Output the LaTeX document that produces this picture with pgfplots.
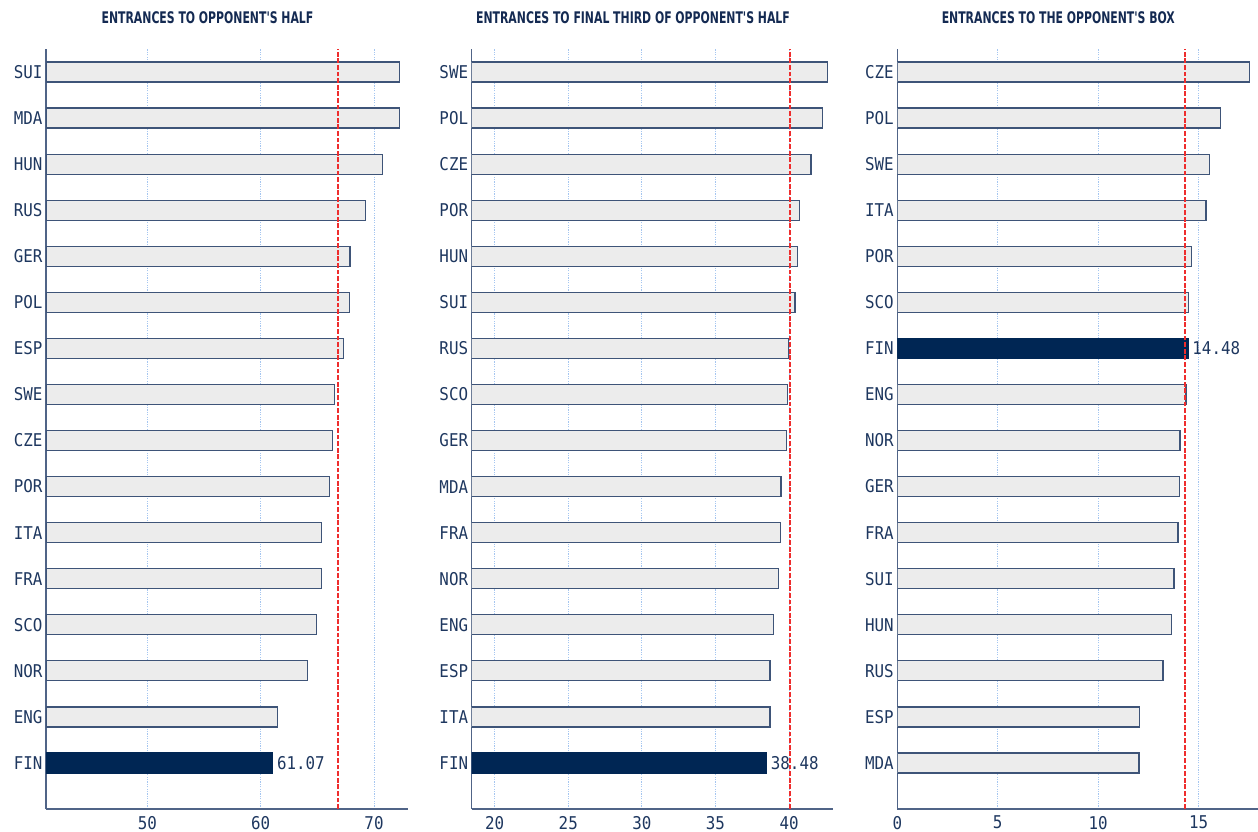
\documentclass[border=0pt]{standalone}
\usepackage{pgfplots}
\pgfplotsset{compat=1.18}
\usepackage{fontspec}
\newfontfamily\monof[FakeStretch=0.9]{DejaVu Sans Mono}
\newfontfamily\titlef[FakeStretch=0.68]{DejaVu Sans}
\definecolor{fincol}{RGB}{0,38,84}
\definecolor{barfill}{RGB}{236,236,236}
\definecolor{baredge}{RGB}{62,84,120}
\definecolor{axiscol}{RGB}{80,100,135}
\definecolor{gridcol}{RGB}{165,198,240}
\definecolor{meancol}{RGB}{238,45,45}
\definecolor{labelcol}{RGB}{30,55,95}
\definecolor{titlecol}{RGB}{20,42,82}
\pgfplotsset{
  panel/.style={
    scale only axis, height=380pt,
    axis x line*=bottom, axis y line*=left,
    axis line style={-, draw=axiscol, line width=0.6pt},
    ymin=-1, ymax=15.5, ytick={0,...,15},
    major tick length=0pt,
    xmajorgrids,
    grid style={draw=gridcol, line width=0.5pt, dash pattern=on 0.6pt off 0.6pt},
    tick label style={font=\monof\fontsize{8.8}{10}\selectfont, text=labelcol},
    yticklabel style={inner xsep=1.6pt},
    /pgf/number format/assume math mode=true,
  },
  gbar/.style={xbar, bar width=10pt, bar shift=0pt, fill=barfill, draw=baredge, line width=0.65pt},
  fbar/.style={xbar, bar width=10pt, bar shift=0pt, fill=fincol, draw=fincol, line width=0.65pt,
    point meta=x, nodes near coords={\pgfmathprintnumber[fixed,fixed zerofill,precision=2]{\pgfplotspointmeta}},
    nodes near coords style={anchor=west, inner xsep=1.8pt, font=\monof\fontsize{8.8}{10}\selectfont, text=labelcol}},
  mline/.style={draw=meancol, line width=0.9pt, dash pattern=on 2.4pt off 0.9pt},
}
\begin{document}
\begin{tikzpicture}
\useasboundingbox (0,0) rectangle (629pt,-415.5pt);
\node[font=\titlef\bfseries\fontsize{8}{9}\selectfont, text=titlecol] at (103.75pt,-8.6pt) {ENTRANCES TO OPPONENT'S HALF};
\node[font=\titlef\bfseries\fontsize{8}{9}\selectfont, text=titlecol] at (316.5pt,-8.6pt) {ENTRANCES TO FINAL THIRD OF OPPONENT'S HALF};
\node[font=\titlef\bfseries\fontsize{8}{9}\selectfont, text=titlecol] at (529.15pt,-8.6pt) {ENTRANCES TO THE OPPONENT'S BOX};

% Panel 1
\begin{axis}[panel, at={(23pt,-404.5pt)}, anchor=south west, width=181pt,
  xmin=41.06, xmax=73.0, xtick={50,60,70},
  yticklabels={FIN,ENG,NOR,SCO,FRA,ITA,POR,CZE,SWE,ESP,POL,GER,RUS,HUN,MDA,SUI}]
\addplot[gbar] coordinates {(61.47,1) (64.12,2) (64.94,3) (65.38,4) (65.38,5) (66.10,6) (66.35,7) (66.53,8) (67.28,9) (67.85,10) (67.88,11) (69.23,12) (70.74,13) (72.23,14) (72.26,15)};
\addplot[fbar] coordinates {(61.07,0)};
\addplot[mline] coordinates {(66.85,-1) (66.85,15.5)};
\end{axis}

% Panel 2
\begin{axis}[panel, at={(235.85pt,-404.5pt)}, anchor=south west, width=180.75pt,
  xmin=18.44, xmax=43.0, xtick={20,25,30,35,40},
  yticklabels={FIN,ITA,ESP,ENG,NOR,FRA,MDA,GER,SCO,RUS,SUI,HUN,POR,CZE,POL,SWE}]
\addplot[gbar] coordinates {(38.71,1) (38.71,2) (38.96,3) (39.30,4) (39.44,5) (39.46,6) (39.82,7) (39.89,8) (39.98,9) (40.41,10) (40.59,11) (40.70,12) (41.49,13) (42.29,14) (42.63,15)};
\addplot[fbar] coordinates {(38.48,0)};
\addplot[mline] coordinates {(40.05,-1) (40.05,15.5)};
\end{axis}

% Panel 3
\begin{axis}[panel, at={(448.65pt,-404.5pt)}, anchor=south west, width=180.3pt,
  xmin=0, xmax=17.95, xtick={0,5,10,15},
  yticklabels={MDA,ESP,RUS,HUN,SUI,FRA,GER,NOR,ENG,FIN,SCO,POR,ITA,SWE,POL,CZE}]
\addplot[gbar] coordinates {(12.03,0) (12.05,1) (13.23,2) (13.64,3) (13.77,4) (13.97,5) (14.04,6) (14.07,7) (14.37,8) (14.50,10) (14.63,11) (15.37,12) (15.55,13) (16.10,14) (17.54,15)};
\addplot[fbar] coordinates {(14.48,9)};
\addplot[mline] coordinates {(14.33,-1) (14.33,15.5)};
\end{axis}
\end{tikzpicture}
\end{document}
